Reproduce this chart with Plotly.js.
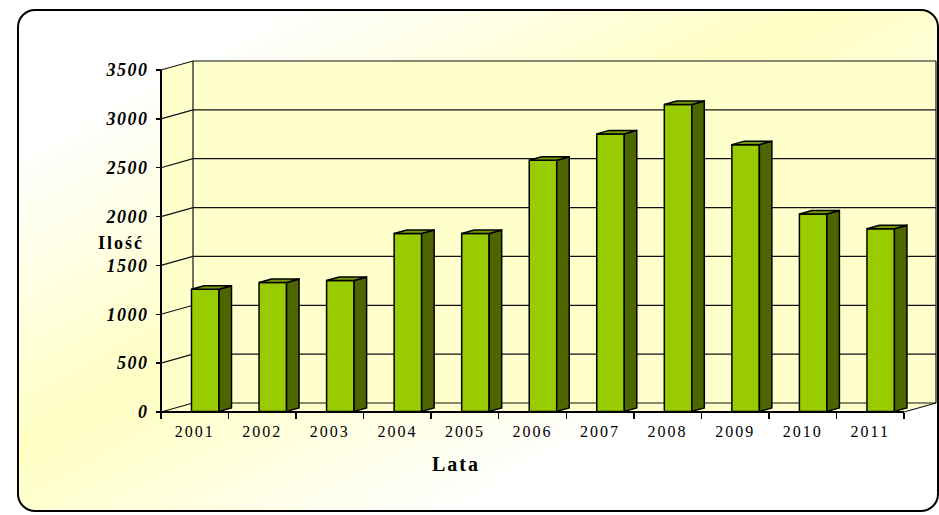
<!DOCTYPE html>
<html><head><meta charset="utf-8">
<script src="https://cdn.plot.ly/plotly-3.0.1.min.js"></script>
<style>
html,body{margin:0;padding:0;background:#fff;overflow:hidden;}
#frame{position:absolute;left:17px;top:9px;width:918px;height:499px;border:2px solid #000;border-radius:18px;
 background:linear-gradient(to bottom right,#ffffff 0%,#ffffff 14%,#ffffc4 44%,#ffffff 74%,#ffffff 100%);}
#chart{position:absolute;left:0;top:0;width:939px;height:515px;}
.ytick text{letter-spacing:1.5px;}
.xtick text{letter-spacing:2px;}
.annotation-text{letter-spacing:2px;}
</style></head>
<body>
<div id="frame"></div>
<div id="chart"></div>
<script>
// ---- data ----
const years = ['2001','2002','2003','2004','2005','2006','2007','2008','2009','2010','2011'];
const counts = [1250, 1320, 1340, 1820, 1820, 2570, 2840, 3140, 2730, 2020, 1870];
const yTickVals = [0, 500, 1000, 1500, 2000, 2500, 3000, 3500];
const yMaxVal = 3500;
const xTitle = 'Lata';
const yTitle = 'Ilość';

// ---- layout geometry (pixels) ----
const W = 939, H = 515;
const X0PX = 161, XNPX = 904, Y0PX = 412, YMPX = 70;
const n = years.length;
const ppx = (XNPX - X0PX) / n;
const ppy = (Y0PX - YMPX) / yMaxVal;
const dX = 32 / ppx, dY = 9 / ppy;          // wall depth
const barOff = 30.5 / ppx, barW = 27.5 / ppx; // bar front face
const bdX = 12.5 / ppx, bdY = 3.5 / ppy;     // bar depth
const base = 0.6 / ppy;
const xmin = -10 / ppx, xmax = (938 - X0PX) / ppx;
const ymin = -6 / ppy, ymax = (Y0PX - 55) / ppy;
const mL = X0PX + xmin * ppx, plotW = (xmax - xmin) * ppx, mR = W - mL - plotW;
const mT = Y0PX - ymax * ppy, plotH = (ymax - ymin) * ppy, mB = H - mT - plotH;
const pxX = px => (px - mL) / plotW;
const pxY = py => (H - mB - py) / plotH;

// walls
const wx = [], wy = [];
function poly(ax, ay, pts){ pts.forEach(p=>{ax.push(p[0]);ay.push(p[1]);}); ax.push(pts[0][0]); ay.push(pts[0][1]); ax.push(null); ay.push(null); }
poly(wx, wy, [[dX,dY],[n+dX,dY],[n+dX,yMaxVal+dY],[dX,yMaxVal+dY]]);
poly(wx, wy, [[0,0],[dX,dY],[dX,yMaxVal+dY],[0,yMaxVal]]);
poly(wx, wy, [[0,0],[n,0],[n+dX,dY],[dX,dY]]);

// grid lines
const gx = [], gy = [];
yTickVals.forEach(v => { gx.push(0, dX, n+dX, null); gy.push(v, v+dY, v+dY, null); });
gx.push(dX, dX, null, n+dX, n+dX, null, n, n+dX, null);
gy.push(dY, yMaxVal+dY, null, dY, yMaxVal+dY, null, 0, dY, null);

// axis lines
const ax = [0, 0, null, 0, n], ay = [yMaxVal, 0, null, 0, 0];

// bars
const fx=[],fy=[],sx=[],sy=[],tx=[],ty=[];
counts.forEach((v,i) => {
  const x0 = i + barOff, x1 = x0 + barW, yb = base, yt = base + v;
  poly(fx, fy, [[x0,yb],[x1,yb],[x1,yt],[x0,yt]]);
  poly(sx, sy, [[x1,yb],[x1+bdX,yb+bdY],[x1+bdX,yt+bdY],[x1,yt]]);
  poly(tx, ty, [[x0,yt],[x1,yt],[x1+bdX,yt+bdY],[x0+bdX,yt+bdY]]);
});

const common = {type:'scatter', mode:'lines', hoverinfo:'skip', showlegend:false};
const traces = [
  Object.assign({}, common, {x:wx, y:wy, fill:'toself', fillcolor:'#FFFFCC', line:{width:0, color:'rgba(0,0,0,0)'}}),
  Object.assign({}, common, {x:gx, y:gy, line:{width:1.2, color:'#111'}}),
  Object.assign({}, common, {x:ax, y:ay, line:{width:2, color:'#000'}}),
  Object.assign({}, common, {x:fx, y:fy, fill:'toself', fillcolor:'#99CC00', line:{width:1.5, color:'#000'}}),
  Object.assign({}, common, {x:sx, y:sy, fill:'toself', fillcolor:'#4D6600', line:{width:1.5, color:'#000'}}),
  Object.assign({}, common, {x:tx, y:ty, fill:'toself', fillcolor:'#739900', line:{width:1.5, color:'#000'}})
];

const serif = 'Liberation Serif, Times New Roman, serif';
const layout = {
  width: W, height: H,
  margin: {l:mL, r:mR, t:mT, b:mB, pad:0, autoexpand:false},
  paper_bgcolor: 'rgba(0,0,0,0)', plot_bgcolor: 'rgba(0,0,0,0)',
  showlegend: false,
  xaxis: {
    range:[xmin, xmax], anchor:'free', position:(0 - ymin)/(ymax - ymin),
    showgrid:false, zeroline:false, showline:false,
    tickmode:'array', tickvals: years.map((_,i)=>i+0.5), ticktext: years,
    ticks:'', ticklabelstandoff: 8,
    tickfont:{family:serif, size:16, color:'#000'},
    minor:{tickmode:'array', tickvals: years.map((_,i)=>i).concat([n]), ticks:'outside', ticklen:6, tickwidth:1.5, tickcolor:'#000', showgrid:false},
    fixedrange:true
  },
  yaxis: {
    range:[ymin, ymax], anchor:'free', position:(0 - xmin)/(xmax - xmin),
    showgrid:false, zeroline:false, showline:false,
    tickmode:'array', tickvals:yTickVals, ticks:'outside', ticklen:5, tickwidth:1.5, tickcolor:'#000',
    ticklabelstandoff: 4,
    tickfont:{family:serif, size:18, weight:'bold', style:'italic', color:'#000'},
    fixedrange:true
  },
  annotations: [{
    text: yTitle, xref:'paper', yref:'paper', x:pxX(121), y:pxY(243), showarrow:false,
    xanchor:'center', yanchor:'middle',
    font:{family:serif, size:18, weight:'bold', color:'#000'}
  },{
    text: xTitle, xref:'paper', yref:'paper', x:pxX(456), y:pxY(464), showarrow:false,
    xanchor:'center', yanchor:'middle',
    font:{family:serif, size:20, weight:'bold', color:'#000'}
  }]
};
Plotly.newPlot('chart', traces, layout, {displayModeBar:false, staticPlot:true});
</script>
</body></html>
